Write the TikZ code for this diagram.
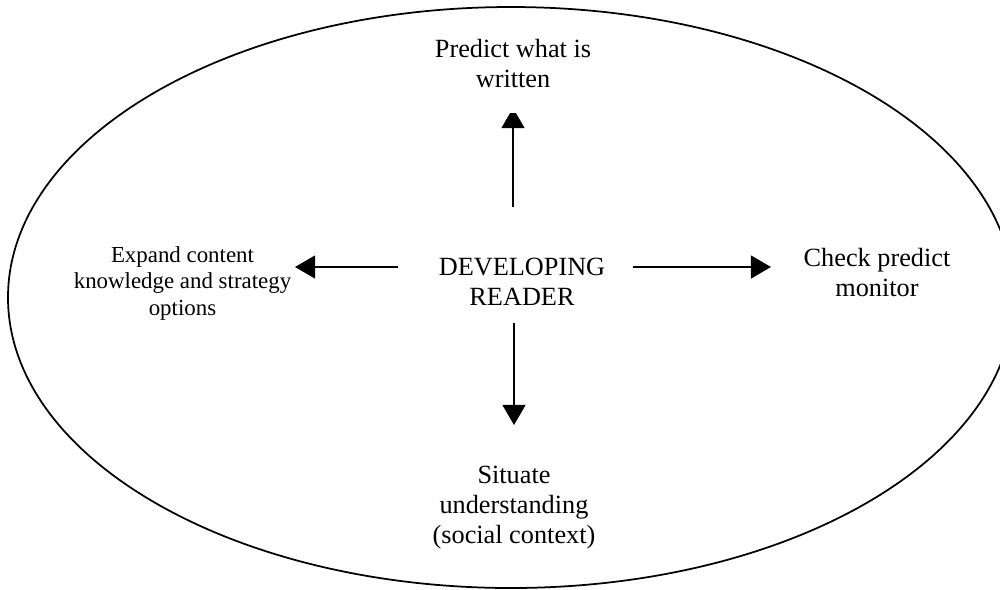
\documentclass[tikz,border=0pt]{standalone}
\usepackage{fontspec}
\setmainfont{Liberation Serif}
\usetikzlibrary{arrows.meta}
\begin{document}
\begin{tikzpicture}[x=0.4566pt,y=-0.4566pt,
  lbl/.style={align=center, inner sep=0pt, anchor=base, font=\fontsize{12}{13.7}\selectfont},
  small/.style={lbl, font=\fontsize{10.45}{12.1}\selectfont},
  arr/.style={line width=0.8pt, -{Triangle[length=9.2pt,width=10.5pt]}},
  rim/.style={line width=0.8pt}
]
\useasboundingbox (0,0) rectangle (1000,589);

% outer ellipse
\draw[rim] (511,297.5) ellipse [x radius=503, y radius=290.5];

% labels (positioned by the baseline of their last line)
\node[lbl]   (predict) at (513,87)    {Predict what is\\written};
\node[lbl]   (dev)     at (522,305)   {DEVELOPING\\READER};
\node[small] (expand)  at (182.5,315) {Expand content\\knowledge and strategy\\options};
\node[lbl]   (check)   at (877,296)   {Check predict\\monitor};
\node[lbl]   (situate) at (514,543)   {Situate\\understanding\\(social context)};

% arrow end points
\coordinate (upS)    at (513,207);
\coordinate (upT)    at (513,108);
\coordinate (rightS) at (633,267);
\coordinate (rightT) at (771,267);
\coordinate (leftS)  at (398,267);
\coordinate (leftT)  at (295,267);
\coordinate (downS)  at (514,323);
\coordinate (downT)  at (514,425);

% arrows
\begin{scope}
  \clip (0,113) rectangle (1000,589);
  \draw[arr] (upS) -- (upT);
\end{scope}
\draw[arr] (rightS) -- (rightT);
\draw[arr] (leftS) -- (leftT);
\draw[arr] (downS) -- (downT);
\end{tikzpicture}
\end{document}
